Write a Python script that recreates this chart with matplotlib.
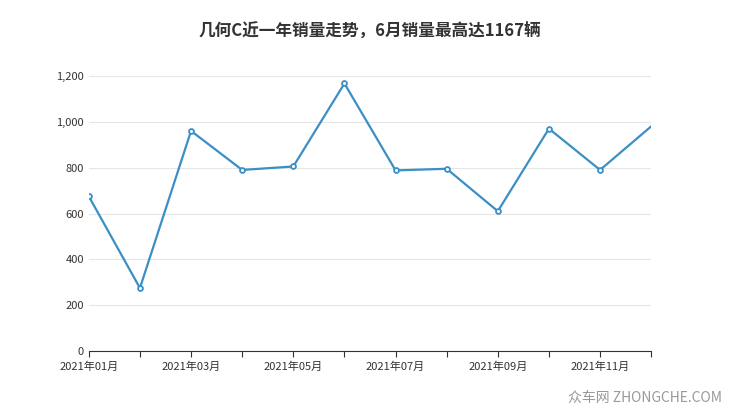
import matplotlib
matplotlib.use('Agg')
import matplotlib.pyplot as plt

plt.rcParams['font.family'] = ['Noto Sans CJK SC', 'DejaVu Sans']

months = ['2021年01月','2021年02月','2021年03月','2021年04月','2021年05月','2021年06月',
          '2021年07月','2021年08月','2021年09月','2021年10月','2021年11月','2021年12月']
sales = [675, 275, 960, 790, 805, 1167, 788, 795, 610, 970, 790, 980]
yticks = [0, 200, 400, 600, 800, 1000, 1200]

fig = plt.figure(figsize=(7.4, 4.17), dpi=100)
ax = fig.add_axes([0.120, 0.158, 0.760, 0.660])
x = list(range(len(sales)))
ax.plot(x, sales, color='#3a8fc6', lw=1.6, zorder=3)
ax.plot(x[:-1], sales[:-1], 'o', ms=3.5, mfc='white', mec='#3a8fc6', mew=1.3, zorder=4)
ax.set_xlim(0, 11)
ax.set_ylim(0, 1200)
ax.set_yticks(yticks)
ax.set_yticklabels([f'{v:,}' for v in yticks])
ax.grid(axis='y', color='#e6e6e6', lw=0.8)
ax.set_xticks(x)
ax.set_xticklabels([m if i % 2 == 0 else '' for i, m in enumerate(months)])
for s in ['top', 'right', 'left']:
    ax.spines[s].set_visible(False)
ax.spines['bottom'].set_color('#333333')
ax.tick_params(axis='y', length=0, labelsize=8, colors='#333333')
ax.tick_params(axis='x', length=4, labelsize=8, colors='#333333')
fig.text(0.5, 0.925, '几何C近一年销量走势，6月销量最高达1167辆', ha='center', va='center',
         fontsize=12, fontweight='bold', color='#333333')
fig.text(0.975, 0.03, '众车网 ZHONGCHE.COM', ha='right', va='bottom', fontsize=10, color='#999999')
fig.savefig('out.png', dpi=100)
